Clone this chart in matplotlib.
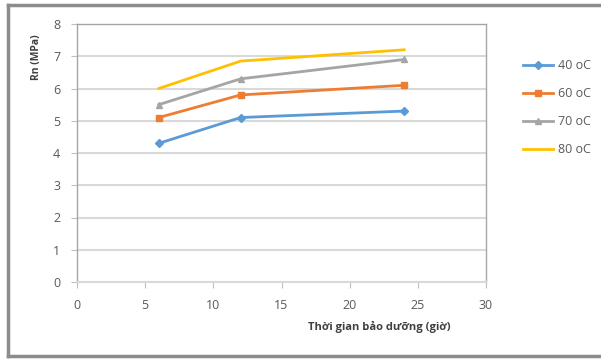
import matplotlib.pyplot as plt
from matplotlib.lines import Line2D

# curing time (hours) and strength Rn (MPa) per temperature
hours = [6, 12, 24]
rn_40 = [4.3, 5.1, 5.3]
rn_60 = [5.1, 5.8, 6.1]
rn_70 = [5.5, 6.3, 6.9]
rn_80 = [6.0, 6.85, 7.2]
labels = ["40 oC", "60 oC", "70 oC", "80 oC"]

plt.rcParams['font.family'] = ['Open Sans', 'DejaVu Sans']

W, H = 601, 359
fig = plt.figure(figsize=(W / 100, H / 100), dpi=100)
ax = fig.add_axes([77 / W, 1 - 282 / H, (486 - 77) / W, (282 - 24) / H])

# outer chart border (right side runs off the picture), in pixels from top-left
x0, y0, y1 = 8, 5, 356
border = dict(transform=fig.transFigure, color='#8c8c8c', linewidth=2.5)
fig.add_artist(Line2D([x0 / W, 1.0], [1 - y0 / H, 1 - y0 / H], **border))
fig.add_artist(Line2D([x0 / W, x0 / W], [1 - y0 / H, 1 - y1 / H], **border))
fig.add_artist(Line2D([x0 / W, 1.0], [1 - y1 / H, 1 - y1 / H], **border))

ax.plot(hours, rn_40, color='#5b9bd5', marker='D', markersize=4, linewidth=2, label=labels[0])
ax.plot(hours, rn_60, color='#ed7d31', marker='s', markersize=5, linewidth=2, label=labels[1])
ax.plot(hours, rn_70, color='#a5a5a5', marker='^', markersize=4, linewidth=2, label=labels[2])
ax.plot(hours, rn_80, color='#ffc000', linewidth=2, label=labels[3])

ax.set_xlim(0, 30)
ax.set_ylim(0, 8)
ax.set_xticks(range(0, 31, 5))
ax.set_yticks(range(0, 9))
ax.grid(axis='y', color='#d9d9d9', linewidth=1.5)
ax.set_axisbelow(True)
for s in ['left', 'right', 'top']:
    ax.spines[s].set_color('#a6a6a6')
    ax.spines[s].set_linewidth(1)
ax.spines['bottom'].set_color('#d9d9d9')
ax.spines['bottom'].set_linewidth(1.5)
ax.tick_params(axis='both', colors='#bfbfbf', labelcolor='#595959', labelsize=9, length=4)
ax.tick_params(axis='x', pad=8)
ax.tick_params(axis='y', pad=8)

ax.set_ylabel("Rn (MPa)", fontsize=7.5, fontweight='bold', color='#404040')
ax.set_xlabel("Thời gian bảo dưỡng (giờ)", fontsize=8, fontweight='bold', color='#404040')
ax.xaxis.set_label_coords(0.74, -0.15)
ax.yaxis.set_label_coords(-0.085, 0.87)

fig.legend(loc='upper left', bbox_to_anchor=(512 / W, 1 - 48 / H), frameon=False,
           fontsize=9, labelcolor='#595959', handlelength=2.4, handletextpad=0.4,
           labelspacing=1.2)

fig.savefig('out.png', dpi=100)
